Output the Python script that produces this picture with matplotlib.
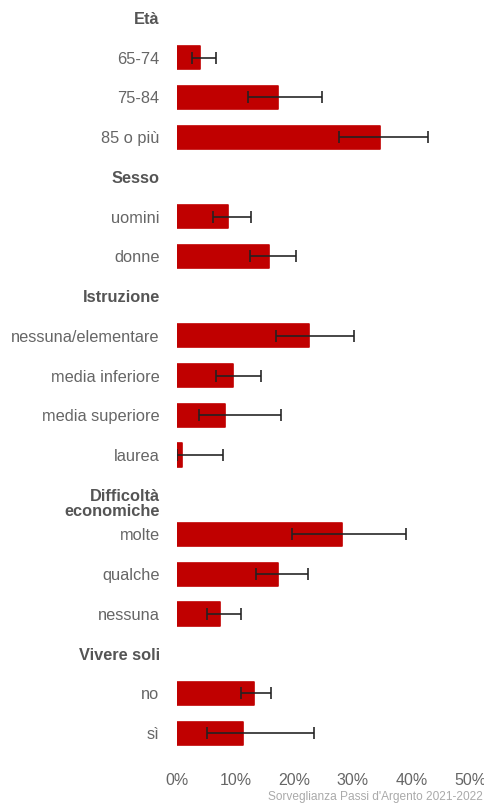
import matplotlib
matplotlib.use("Agg")
import matplotlib.pyplot as plt
import numpy as np

plt.rcParams['font.family'] = ['Liberation Sans', 'DejaVu Sans']

# Rows from top to bottom; None marks a group header row
labels = ["Età", "65-74", "75-84", "85 o più",
          "Sesso", "uomini", "donne",
          "Istruzione", "nessuna/elementare", "media inferiore", "media superiore", "laurea",
          "Difficoltà\neconomiche", "molte", "qualche", "nessuna",
          "Vivere soli", "no", "sì"]
is_header = [True, False, False, False,
             True, False, False,
             True, False, False, False, False,
             True, False, False, False,
             True, False, False]

# Prevalence (%) and 95% confidence limits
values = [None, 3.9, 17.2, 34.6,
          None, 8.7, 15.7,
          None, 22.5, 9.6, 8.2, 0.9,
          None, 28.1, 17.2, 7.3,
          None, 13.2, 11.3]
ci_low = [None, 2.5, 12.1, 27.7,
          None, 6.2, 12.4,
          None, 16.9, 6.6, 3.7, 0.0,
          None, 19.7, 13.4, 5.2,
          None, 11.0, 5.2]
ci_high = [None, 6.6, 24.7, 42.8,
           None, 12.7, 20.3,
           None, 30.2, 14.4, 17.7, 7.8,
           None, 39.1, 22.4, 11.0,
           None, 16.1, 23.3]

xticks = [0, 10, 20, 30, 40, 50]
source = "Sorveglianza Passi d'Argento 2021-2022"

bar_color = "#c00000"
label_color = "#666666"
header_color = "#555555"

W, H = 485, 807
fig = plt.figure(figsize=(W / 100, H / 100), dpi=100)
ax = fig.add_axes([177 / W, (H - 763) / H, (470 - 177) / W, 763 / H])

rows = np.arange(len(labels))
data_rows = [i for i in rows if not is_header[i]]
v = np.array([values[i] for i in data_rows])
lo = np.array([ci_low[i] for i in data_rows])
hi = np.array([ci_high[i] for i in data_rows])

ax.barh(data_rows, v, height=0.58, color=bar_color, edgecolor=bar_color,
        linewidth=1.2, joinstyle='round', zorder=2)
ax.errorbar(v, data_rows, xerr=[v - lo, hi - v], fmt='none', ecolor='#222222',
            elinewidth=1.3, capsize=4.5, capthick=1.3, zorder=3, alpha=0.9)

ax.set_xlim(0, 50)
ax.set_ylim(18.75, -0.45)
ax.set_xticks(xticks)
ax.set_xticklabels([f"{t}%" for t in xticks])

ax.set_yticks(rows)
tick_text = [("" if "\n" in l else l) for l in labels]
ax.set_yticklabels(tick_text)
for lab, hdr in zip(ax.get_yticklabels(), is_header):
    if hdr:
        lab.set_fontweight('bold')
        lab.set_color(header_color)
    else:
        lab.set_color(label_color)

# Two-line group header: first line sits on the row, second line below it
for i, l in enumerate(labels):
    if "\n" in l:
        ax.annotate(l, xy=(0, i), xycoords=ax.get_yaxis_transform(),
                    xytext=(-12.5, 4.5), textcoords='offset points',
                    ha='right', va='top', fontsize=11.8, fontweight='bold',
                    color=header_color, linespacing=1.08)

ax.tick_params(axis='y', length=0, pad=12.5, labelsize=11.8)
ax.tick_params(axis='x', length=0, pad=7, labelsize=11.5, labelcolor=label_color)
for s in ax.spines.values():
    s.set_visible(False)

fig.text(483 / W, 1 - 797 / H, source, ha='right', va='center',
         fontsize=8.6, color='#aaaaaa')

fig.savefig("out.png", dpi=100)
